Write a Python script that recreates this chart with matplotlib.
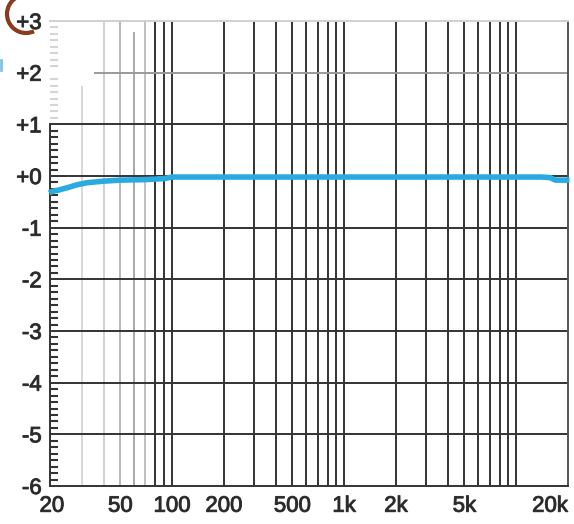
import matplotlib
matplotlib.use("Agg")
import matplotlib.pyplot as plt
import matplotlib.patheffects as pe
from matplotlib.patches import Arc
from matplotlib.lines import Line2D

# ---- data ----
freq_hz = [19.3, 20, 22, 25, 28, 32, 40, 50, 70, 90, 100, 200, 500, 1000, 2000,
           5000, 10000, 14000, 15700, 16900, 20000, 20400]
response_db = [-0.33, -0.30, -0.27, -0.22, -0.17, -0.13, -0.10, -0.08, -0.07, -0.05,
               -0.02, -0.02, -0.02, -0.02, -0.02, -0.02, -0.02, -0.02, -0.03, -0.08,
               -0.08, -0.08]

xtick_vals = [20, 50, 100, 200, 500, 1000, 2000, 5000, 20000]
xtick_labels = ["20", "50", "100", "200", "500", "1k", "2k", "5k", "20k"]
ytick_vals = [3, 2, 1, 0, -1, -2, -3, -4, -5, -6]
ytick_labels = ["+3", "+2", "+1", "+0", "-1", "-2", "-3", "-4", "-5", "-6"]

dark_vgrid = [80, 90, 100, 200, 300, 400, 500, 600, 700, 800, 900,
              1000, 2000, 3000, 4000, 5000, 6000, 7000, 8000, 9000, 10000]
light_vgrid = [30, 40, 50, 60, 70]
light_vgrid_top = [1.72, 3.0, 3.0, 2.76, 3.0]
light_vgrid_color = ["#d8d8d8", "#d0d0d0", "#b8b8b8", "#a8a8a8", "#c0c0c0"]
dark_hgrid = [1, 0, -1, -2, -3, -4, -5]

W, H = 574, 524
fig = plt.figure(figsize=(W / 100, H / 100), dpi=100)
fig.patch.set_facecolor("white")
L, R, T, B = 50, 568, 21, 486
ax = fig.add_axes([L / W, 1 - B / H, (R - L) / W, (B - T) / H])
ax.set_xscale("log")
xmin, xmax = 19.5, 20000
ymin, ymax = -6, 3
ax.set_xlim(xmin, xmax)
ax.set_ylim(ymin, ymax)

gc = "#333333"
glw = 1.4
for f in dark_vgrid:
    ax.axvline(f, color=gc, lw=glw, zorder=1)
for f, top, c in zip(light_vgrid, light_vgrid_top, light_vgrid_color):
    ax.axvline(f, ymin=0, ymax=(top - ymin) / (ymax - ymin), color=c, lw=glw, zorder=1)
for v in dark_hgrid:
    ax.axhline(v, color=gc, lw=glw, zorder=1)
ax.axhline(2, xmin=0.087, color="#9a9a9a", lw=glw, zorder=1)

# minor ticks on left spine (inward)
minor_dark = [i + k / 8 for i in range(-6, 1) for k in range(1, 8)]
minor_light = [i + k / 8 for i in range(1, 3) for k in range(1, 8)]
tr = ax.get_yaxis_transform()
tick_len = 8 / (R - L)
ax.hlines(minor_dark, 0, tick_len, transform=tr, color=gc, lw=1.5, zorder=2)
ax.hlines(minor_light, 0, tick_len, transform=tr, color="#d5d5d5", lw=1.5, zorder=2)

# curve
ax.plot(freq_hz, response_db, color="#29abe2", lw=4.0, solid_capstyle="butt",
        zorder=3, clip_on=False)

# spines
ax.spines["left"].set_bounds(-6, 1)
ax.spines["left"].set_color(gc)
ax.spines["left"].set_linewidth(glw)
ax.spines["bottom"].set_color(gc)
ax.spines["bottom"].set_linewidth(glw)
ax.spines["right"].set_color("#555555")
ax.spines["right"].set_linewidth(glw)
ax.spines["top"].set_color("#d0d0d0")
ax.spines["top"].set_linewidth(glw)

font = {"family": "Liberation Sans", "size": 16, "color": "#2a2a2a"}
ax.set_xticks(xtick_vals)
ax.set_xticklabels(xtick_labels, fontdict=font)
ax.xaxis.set_minor_locator(matplotlib.ticker.NullLocator())
ax.set_yticks(ytick_vals)
ax.set_yticklabels(ytick_labels, fontdict=font)
ax.tick_params(axis="both", length=0)
ax.tick_params(axis="x", pad=7)
ax.tick_params(axis="y", pad=6)
ax.get_xticklabels()[-1].set_horizontalalignment("right")
for lbl in ax.get_xticklabels() + ax.get_yticklabels():
    lbl.set_path_effects([pe.withStroke(linewidth=0.7, foreground="#3a3a3a")])

# cropped-in artifacts at top-left
arc = Arc((26 / W, 1 - 14 / H), 38 / W, 38 / H, theta1=106, theta2=293,
          transform=fig.transFigure, color="#8a3b1c", lw=3.0)
fig.add_artist(arc)
fig.add_artist(Line2D([1 / W, 1 / W], [1 - 60 / H, 1 - 70 / H],
                      transform=fig.transFigure, color="#7fc3e8", lw=2))

fig.savefig("out.png", dpi=100)
